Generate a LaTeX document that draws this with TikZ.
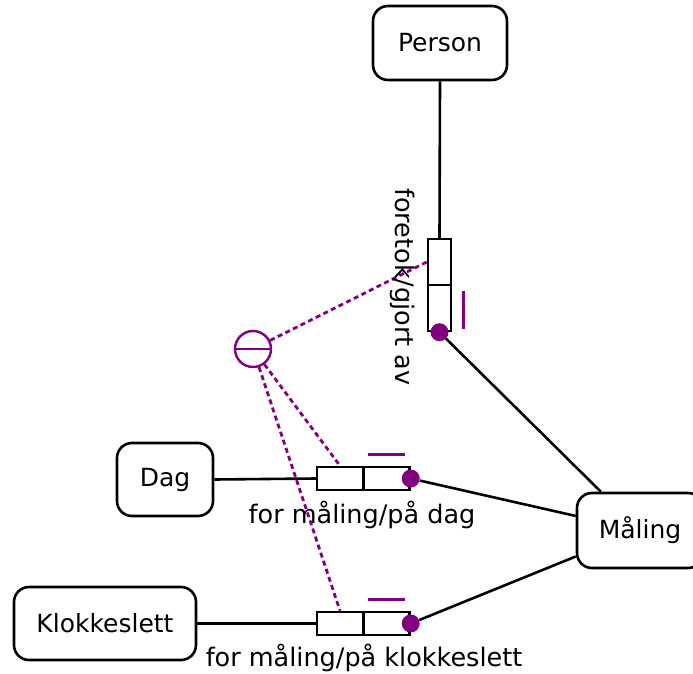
\documentclass[tikz,border=0pt]{standalone}
\usepackage{fontspec}
\setmainfont{DejaVu Sans}
\usetikzlibrary{calc}
\definecolor{ormpurple}{RGB}{128,0,128}
\tikzset{
  ent/.style={draw=black, line width=2.6pt, rounded corners=15pt, inner sep=0pt, font=\fontsize{25}{30}\selectfont},
  hrole/.style={draw=black, line width=2.4pt, minimum width=46pt, minimum height=23pt, inner sep=0pt},
  vrole/.style={draw=black, line width=2.4pt, minimum width=23pt, minimum height=46pt, inner sep=0pt},
  conn/.style={draw=black, line width=2.6pt},
  mandot/.style={circle, fill=ormpurple, minimum size=18pt, inner sep=0pt},
  ubar/.style={draw=ormpurple, line width=3.2pt},
  extu/.style={circle, draw=ormpurple, line width=2.4pt, minimum size=36pt, inner sep=0pt},
  extlink/.style={draw=ormpurple, line width=2.8pt, dash pattern=on 5pt off 3.5pt},
  lbl/.style={font=\fontsize{25.5}{30}\selectfont, inner sep=0pt}
}
\begin{document}
\begin{tikzpicture}[x=1pt,y=-1pt]
\useasboundingbox (0,0) rectangle (693,674);
% entity types
\node[ent, minimum width=134pt, minimum height=74pt] (person) at (440,43) {Person};
\node[ent, minimum width=96pt, minimum height=73pt] (dag) at (165,479.5) {Dag};
\node[ent, minimum width=182pt, minimum height=73pt] (klokke) at (105,623.5) {Klokkeslett};
\node[ent, minimum width=126pt, minimum height=75pt] (maling) at (640,530.5) {Måling};
% vertical fact type
\node[vrole] (r1a) at (439.5,262) {};
\node[vrole] (r1b) at (439.5,308) {};
% Dag fact type
\node[hrole] (r2a) at (340,478.5) {};
\node[hrole] (r2b) at (386.5,478.5) {};
% Klokkeslett fact type
\node[hrole] (r3a) at (340,623.5) {};
\node[hrole] (r3b) at (386.5,623.5) {};
% mandatory dots
\node[mandot] (d1) at (r1b.south) {};
\node[mandot] (d2) at (r2b.east) {};
\node[mandot] (d3) at (r3b.east) {};
% connectors
\draw[conn] (person.south) -- (r1a.north);
\draw[conn] (d1) -- (maling);
\draw[conn] (dag.east) -- (r2a.west);
\draw[conn] (d2) -- (maling);
\draw[conn] (klokke.east) -- (r3a.west);
\draw[conn] (d3) -- (maling);
% uniqueness bars
\draw[ubar] ($(r1b.east)+(11.5,-17)$) -- ($(r1b.east)+(11.5,21)$);
\draw[ubar] ($(r2b.north)+(-18.5,-11)$) -- ($(r2b.north)+(18.5,-11)$);
\draw[ubar] ($(r3b.north)+(-18.5,-11)$) -- ($(r3b.north)+(18.5,-11)$);
% external uniqueness constraint
\node[extu] (ext) at (253,349) {};
\draw[ormpurple, line width=2.4pt] (ext.west) -- (ext.east);
\draw[extlink] (ext) -- (r1a.west);
\draw[extlink] (ext) -- (r2a.north);
\draw[extlink] (ext) -- (r3a.north);
% labels
\node[lbl, rotate=-90] (l1) at (403,287) {foretok/gjort av};
\node[lbl] (l2) at (362,515) {for måling/på dag};
\node[lbl] (l3) at (364,658) {for måling/på klokkeslett};
\end{tikzpicture}
\end{document}
